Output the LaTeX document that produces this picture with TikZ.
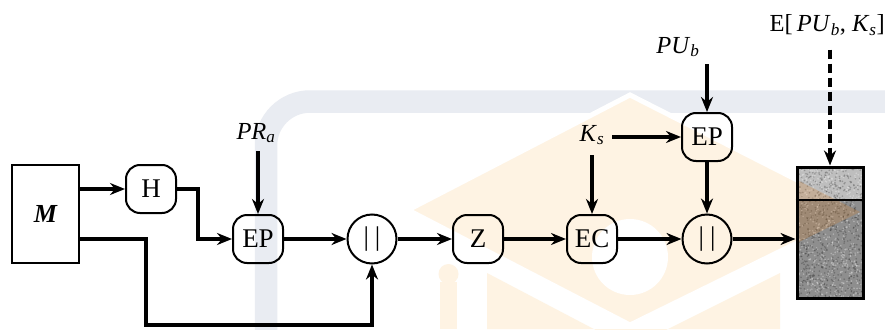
\documentclass[tikz,border=0pt]{standalone}
\usepackage{fontspec}
\setmainfont{Liberation Serif}
\usetikzlibrary{arrows.meta}
\definecolor{wmgray}{HTML}{E9ECF2}
\definecolor{wmorange}{HTML}{FEF3E3}
\definecolor{boxtop}{HTML}{BEBEBE}
\definecolor{boxbot}{HTML}{8E8E8E}
\begin{document}
\begin{tikzpicture}[x=1pt,y=-1pt,
  rbox/.style={draw,line width=2pt,rounded corners=14pt,minimum width=50pt,minimum height=48pt,inner sep=0pt,font=\fontsize{27}{30}\selectfont},
  cbox/.style={draw,line width=2pt,circle,minimum size=49pt,inner sep=0pt,font=\fontsize{27}{30}\selectfont},
  lbl/.style={inner sep=0pt,font=\fontsize{24.5}{28}\selectfont},
  arr/.style={line width=3.6pt,-{Stealth[length=15pt,width=12pt]}},
  dasharr/.style={arr,dash pattern=on 9pt off 5pt}
]
\useasboundingbox (0,0) rectangle (885,329);
\fill[white] (0,0) rectangle (885,329);
% watermark
\draw[wmgray,line width=22.5pt,rounded corners=44pt] (266,335) -- (266,101.5) -- (890,101.5);
\filldraw[fill=wmorange,draw=white,line width=5pt] (408,210) -- (630,95) -- (860,212) -- (630,325) -- cycle;
\fill[white] (630,257) circle (38);
\fill[wmorange] (487,273) -- (630,348) -- (780,273) -- (780,329) -- (487,329) -- cycle;
\fill[wmorange] (440,282) rectangle (457,329);
\fill[wmorange] (448.5,274) circle (10);
% message box fill
\fill[boxtop] (797,167) rectangle (863,200);
\fill[boxbot] (797,200) rectangle (863,298);
\pgfmathsetseed{7}
\foreach \i in {1,...,700}{
  \pgfmathsetmacro\rx{798+64*rnd}
  \pgfmathsetmacro\ry{168+129*rnd}
  \fill[black,opacity=.22] (\rx,\ry) circle (0.9pt);
}
\foreach \i in {1,...,500}{
  \pgfmathsetmacro\rx{798+64*rnd}
  \pgfmathsetmacro\ry{168+129*rnd}
  \fill[white,opacity=.3] (\rx,\ry) circle (0.9pt);
}
\begin{scope}
  \clip (797,167) rectangle (863,298);
  \fill[brown!70!orange,opacity=.25] (408,210) -- (630,95) -- (860,212) -- (630,325) -- cycle;
\end{scope}
\node[draw,line width=3pt,minimum width=66pt,minimum height=131pt,inner sep=0pt] (Box) at (830,232.5) {};
\draw[line width=2.6pt] (Box.west |- 0,200) -- (Box.east |- 0,200);
% nodes
\node[draw,line width=2pt,minimum width=67pt,minimum height=98pt,inner sep=0pt,font=\fontsize{26}{30}\selectfont\bfseries\itshape] (M) at (45.5,214) {M};
\node[rbox] (H) at (151,189) {H};
\node[rbox] (EP1) at (258,239) {EP};
\node[cbox] (C1) at (372,239) {|\hspace{6pt}|};
\node[rbox] (Z) at (478,239) {Z};
\node[rbox] (EC) at (592,239) {EC};
\node[cbox] (C2) at (707,239) {|\hspace{6pt}|};
\node[rbox] (EP2) at (707,137) {EP};
\node[lbl] (PRa) at (256,133) {\textit{PR}\textsubscript{\textit{a}}};
\node[lbl] (PUb) at (678,47) {\textit{PU}\textsubscript{\textit{b}}};
\node[lbl] (Ks) at (592,135) {\textit{K}\textsubscript{\textit{s}}};
\node[lbl,anchor=east] (Epub) at (885,25) {E[\,\textit{PU}\textsubscript{\textit{b}}, \textit{K}\textsubscript{\textit{s}}]};
% connectors
\draw[arr] (M.east |- H.west) -- (H.west);
\draw[arr] (H.east) -- ++(21,0) |- (EP1.west);
\draw[arr] (M.east |- EP1.west) -- ++(66,0) -- ++(0,86) -| (C1.south);
\draw[arr] ([yshift=-8pt]EP1.north |- PRa.south) -- (EP1.north);
\draw[arr] (EP1) -- (C1);
\draw[arr] (C1) -- (Z);
\draw[arr] (Z) -- (EC);
\draw[arr] (EC) -- (C2);
\draw[arr] (C2) -- (Box.west |- C2.east);
\draw[arr] ([yshift=-10pt]Ks.south) -- (EC.north);
\draw[arr] ([xshift=8pt]Ks.east |- EP2.west) -- (EP2.west);
\draw[arr] ([yshift=-7pt]EP2.north |- PUb.south) -- (EP2.north);
\draw[arr] (EP2) -- (C2);
\draw[dasharr] ([yshift=-14pt]Box.north |- Epub.south) -- (Box.north);
\end{tikzpicture}
\end{document}
